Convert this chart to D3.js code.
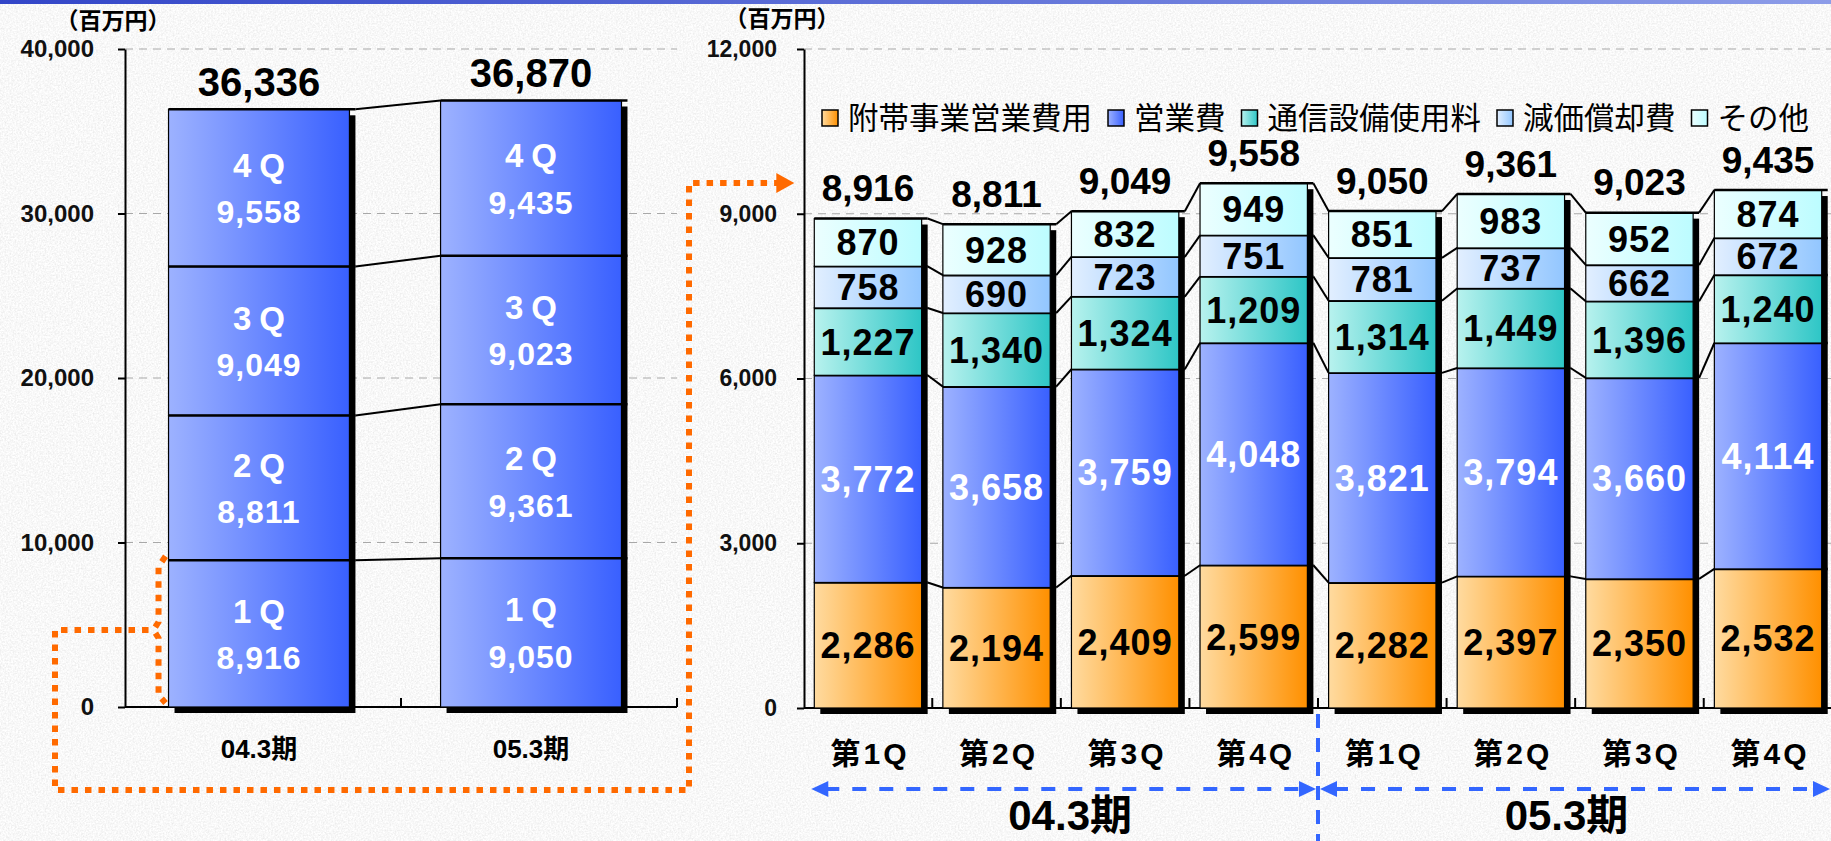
<!DOCTYPE html>
<html><head><meta charset="utf-8">
<script src="https://cdn.jsdelivr.net/npm/d3@7"></script>
<style>
html,body{margin:0;padding:0;background:#e6e6e6;overflow:hidden;}
svg{display:block;}
text{font-family:"Liberation Sans","Noto Sans CJK JP",sans-serif;}
</style></head><body>
<svg id="chart" width="1831" height="841"></svg>
<script>
// ---------- data ----------
const periods = ["04.3期", "05.3期"];
const periodTotals = [36336, 36870];
const quarterNames = ["1Q", "2Q", "3Q", "4Q"];
const fy04Quarters = [8916, 8811, 9049, 9558];
const fy05Quarters = [9050, 9361, 9023, 9435];

const qLabels = ["第1Q", "第2Q", "第3Q", "第4Q", "第1Q", "第2Q", "第3Q", "第4Q"];
const seriesNames = ["附帯事業営業費用", "営業費", "通信設備使用料", "減価償却費", "その他"];
const futaiCost   = [2286, 2194, 2409, 2599, 2282, 2397, 2350, 2532];
const eigyoCost   = [3772, 3658, 3759, 4048, 3821, 3794, 3660, 4114];
const tsushinFee  = [1227, 1340, 1324, 1209, 1314, 1449, 1396, 1240];
const genkaCost   = [758, 690, 723, 751, 781, 737, 662, 672];
const otherCost   = [870, 928, 832, 949, 851, 983, 952, 874];
const quarterTotals = [8916, 8811, 9049, 9558, 9050, 9361, 9023, 9435];

const leftTicks = [0, 10000, 20000, 30000, 40000];
const rightTicks = [0, 3000, 6000, 9000, 12000];
const unitLabel = "（百万円）";

const seriesValues = [futaiCost, eigyoCost, tsushinFee, genkaCost, otherCost];
const seriesColors = [
  ["#ffdba0", "#ff9000"],
  ["#9db2ff", "#3960ff"],
  ["#b8f2ee", "#2ec6c6"],
  ["#e2efff", "#92c6ff"],
  ["#ecffff", "#bcfcff"]
];
const fmt = d3.format(",");

// ---------- svg ----------
const svg = d3.select("#chart");
const defs = svg.append("defs");

// background texture
const f = defs.append("filter").attr("id", "noise").attr("x", 0).attr("y", 0).attr("width", 1).attr("height", 1);
f.append("feTurbulence").attr("type", "fractalNoise").attr("baseFrequency", "0.6").attr("numOctaves", 3).attr("seed", 4);
f.append("feColorMatrix").attr("type", "matrix")
  .attr("values", "0.3 0 0 0 0.79  0.3 0 0 0 0.79  0.3 0 0 0 0.79  0 0 0 0 1");
svg.append("rect").attr("width", 1831).attr("height", 841).attr("filter", "url(#noise)");

// top blue rule
const tg = defs.append("linearGradient").attr("id", "topRule");
tg.append("stop").attr("offset", "0%").attr("stop-color", "#3346c8");
tg.append("stop").attr("offset", "100%").attr("stop-color", "#8c9ce8");
svg.append("rect").attr("width", 1831).attr("height", 4).attr("fill", "url(#topRule)");

seriesColors.forEach((c, i) => {
  const g = defs.append("linearGradient").attr("id", "grad" + i).attr("x1", 0).attr("x2", 1).attr("y1", 0).attr("y2", 0);
  g.append("stop").attr("offset", "0%").attr("stop-color", c[0]);
  g.append("stop").attr("offset", "100%").attr("stop-color", c[1]);
});

const SH = 6; // shadow offset

// ================= LEFT CHART =================
const xL = d3.scaleBand().domain(periods).range([125, 665]).paddingInner(0.335).paddingOuter(0.16);
const yL = d3.scaleLinear().domain([0, 40000]).range([707, 49]);
const leftAxisEnd = 677;
const L = svg.append("g");

// gridlines
L.append("g").selectAll("line").data(leftTicks.filter(d => d > 0)).join("line")
  .attr("x1", 125).attr("x2", leftAxisEnd).attr("y1", d => yL(d)).attr("y2", d => yL(d))
  .attr("stroke", "#a8a8a8").attr("stroke-width", 1.2).attr("stroke-dasharray", "8 6");

// y axis
const yAxisL = L.append("g").attr("transform", "translate(125,0)")
  .call(d3.axisLeft(yL).tickValues(leftTicks).tickFormat(fmt).tickSize(7).tickSizeOuter(0).tickPadding(24));
yAxisL.selectAll("path,line").attr("stroke", "#000").attr("stroke-width", 2);
yAxisL.selectAll("text").attr("font-size", 24).attr("font-weight", "bold").attr("fill", "#111");
L.append("text").attr("x", 113).attr("y", 29).attr("text-anchor", "middle")
  .attr("font-size", 23).attr("font-weight", "bold").attr("font-family", "Noto Sans CJK JP").text(unitLabel);

// x axis
L.append("line").attr("x1", 125).attr("x2", leftAxisEnd).attr("y1", yL(0)).attr("y2", yL(0))
  .attr("stroke", "#000").attr("stroke-width", 2);
[125 + (leftAxisEnd - 125) / 2, leftAxisEnd].forEach(x => {
  L.append("line").attr("x1", x).attr("x2", x).attr("y1", yL(0)).attr("y2", yL(0) - 9)
    .attr("stroke", "#000").attr("stroke-width", 2);
});

const leftData = [fy04Quarters, fy05Quarters].map((arr, pi) => {
  let acc = 0;
  return arr.map((v, qi) => { const s = { p: periods[pi], q: quarterNames[qi], v, y0: acc, y1: acc + v }; acc += v; return s; });
});
const bwL = xL.bandwidth();

// shadows
L.append("g").selectAll("rect").data(periods).join("rect")
  .attr("x", d => xL(d) + SH).attr("y", (d, i) => yL(d3.sum(leftData[i], s => s.v)) + SH)
  .attr("width", bwL).attr("height", (d, i) => yL(0) - yL(d3.sum(leftData[i], s => s.v)))
  .attr("fill", "#000");

// bars
leftData.forEach((segs, pi) => {
  L.append("g").selectAll("rect").data(segs).join("rect")
    .attr("x", d => xL(d.p)).attr("y", d => yL(d.y1)).attr("width", bwL)
    .attr("height", d => yL(d.y0) - yL(d.y1))
    .attr("fill", "url(#grad1)").attr("stroke", "#000").attr("stroke-width", 1.2);
  L.append("g").selectAll("line").data(segs).join("line")
    .attr("x1", d => xL(d.p)).attr("x2", d => xL(d.p) + bwL + SH)
    .attr("y1", d => yL(d.y1)).attr("y2", d => yL(d.y1))
    .attr("stroke", "#000").attr("stroke-width", 2.5);
  const lbl = L.append("g").selectAll("g").data(segs).join("g");
  lbl.append("text").attr("x", d => xL(d.p) + bwL / 2 + 4).attr("y", d => (yL(d.y0) + yL(d.y1)) / 2 - 23)
    .attr("dy", "0.36em").attr("text-anchor", "middle").attr("fill", "#fff")
    .attr("font-size", 33).attr("font-weight", "bold").attr("letter-spacing", 8).text(d => d.q);
  lbl.append("text").attr("x", d => xL(d.p) + bwL / 2).attr("y", d => (yL(d.y0) + yL(d.y1)) / 2 + 24)
    .attr("dy", "0.36em").attr("text-anchor", "middle").attr("fill", "#fff")
    .attr("font-size", 32).attr("font-weight", "bold").attr("letter-spacing", 1).text(d => fmt(d.v));
});

// connectors between the two period bars
d3.range(4).forEach(k => {
  const a = leftData[0][k].y1, b = leftData[1][k].y1;
  L.append("line").attr("x1", xL(periods[0]) + bwL + SH).attr("y1", yL(a))
    .attr("x2", xL(periods[1])).attr("y2", yL(b)).attr("stroke", "#000").attr("stroke-width", 2);
});

// totals
L.append("g").selectAll("text").data(periods).join("text")
  .attr("x", d => xL(d) + bwL / 2).attr("y", (d, i) => yL(periodTotals[i]) - 13)
  .attr("text-anchor", "middle").attr("font-size", 40).attr("font-weight", "bold").attr("fill", "#000")
  .text((d, i) => fmt(periodTotals[i]));

// category labels
L.append("g").selectAll("text").data(periods).join("text")
  .attr("x", d => xL(d) + bwL / 2).attr("y", 758)
  .attr("text-anchor", "middle").attr("font-size", 26).attr("font-weight", "bold").attr("fill", "#000")
  .text(d => d);

// ================= RIGHT CHART =================
const idx = d3.range(qLabels.length);
const xR = d3.scaleBand().domain(idx).range([804, 1832]).paddingInner(0.165).paddingOuter(0.08);
const yR = d3.scaleLinear().domain([0, 12000]).range([708, 49]);
const bwR = xR.bandwidth();
const R = svg.append("g");

R.append("g").selectAll("line").data(rightTicks.filter(d => d > 0)).join("line")
  .attr("x1", 804).attr("x2", 1831).attr("y1", d => yR(d)).attr("y2", d => yR(d))
  .attr("stroke", "#a8a8a8").attr("stroke-width", 1.2).attr("stroke-dasharray", "8 6");

const yAxisR = R.append("g").attr("transform", "translate(804,0)")
  .call(d3.axisLeft(yR).tickValues(rightTicks).tickFormat(fmt).tickSize(7).tickSizeOuter(0).tickPadding(20));
yAxisR.selectAll("path,line").attr("stroke", "#000").attr("stroke-width", 2);
yAxisR.selectAll("text").attr("font-size", 23).attr("font-weight", "bold").attr("fill", "#111");
R.append("text").attr("x", 782).attr("y", 27).attr("text-anchor", "middle")
  .attr("font-size", 23).attr("font-weight", "bold").attr("font-family", "Noto Sans CJK JP").text(unitLabel);

// x axis
R.append("line").attr("x1", 804).attr("x2", 1831).attr("y1", yR(0)).attr("y2", yR(0))
  .attr("stroke", "#000").attr("stroke-width", 2);
idx.slice(1).forEach(i => {
  const x = xR(i) - xR.step() * xR.paddingInner() / 2;
  R.append("line").attr("x1", x).attr("x2", x).attr("y1", yR(0)).attr("y2", yR(0) - 10)
    .attr("stroke", "#000").attr("stroke-width", 2);
});

const stacked = d3.stack().keys(d3.range(5))(idx.map(i => seriesValues.map(s => s[i])));
const topOf = i => stacked[4][i][1];

// shadows
R.append("g").selectAll("rect").data(idx).join("rect")
  .attr("x", i => xR(i) + SH).attr("y", i => yR(topOf(i)) + SH)
  .attr("width", bwR).attr("height", i => yR(0) - yR(topOf(i)))
  .attr("fill", "#000");

stacked.forEach((layer, si) => {
  R.append("g").selectAll("rect").data(layer.map((d, i) => ({ i, y0: d[0], y1: d[1] }))).join("rect")
    .attr("x", d => xR(d.i)).attr("y", d => yR(d.y1)).attr("width", bwR)
    .attr("height", d => yR(d.y0) - yR(d.y1))
    .attr("fill", "url(#grad" + si + ")").attr("stroke", "#000").attr("stroke-width", 1.2);
  R.append("g").selectAll("line").data(layer.map((d, i) => ({ i, y1: d[1] }))).join("line")
    .attr("x1", d => xR(d.i)).attr("x2", d => xR(d.i) + bwR + SH)
    .attr("y1", d => yR(d.y1)).attr("y2", d => yR(d.y1))
    .attr("stroke", "#000").attr("stroke-width", 2.5);
});

// connectors
stacked.forEach(layer => {
  idx.slice(0, -1).forEach(i => {
    R.append("line").attr("x1", xR(i) + bwR + SH).attr("y1", yR(layer[i][1]))
      .attr("x2", xR(i + 1)).attr("y2", yR(layer[i + 1][1]))
      .attr("stroke", "#000").attr("stroke-width", 2);
  });
});

// segment labels
stacked.forEach((layer, si) => {
  R.append("g").selectAll("text").data(layer.map((d, i) => ({ i, y0: d[0], y1: d[1], v: seriesValues[si][i] }))).join("text")
    .attr("x", d => xR(d.i) + bwR / 2).attr("y", d => (yR(d.y0) + yR(d.y1)) / 2)
    .attr("dy", "0.36em").attr("text-anchor", "middle")
    .attr("font-size", 36).attr("font-weight", "bold").attr("letter-spacing", 1)
    .attr("fill", si === 1 ? "#fff" : "#000").text(d => fmt(d.v));
});

// totals
R.append("g").selectAll("text").data(idx).join("text")
  .attr("x", i => xR(i) + bwR / 2).attr("y", i => yR(quarterTotals[i]) - 17)
  .attr("text-anchor", "middle").attr("font-size", 37).attr("font-weight", "bold").attr("fill", "#000")
  .text(i => fmt(quarterTotals[i]));

// quarter labels
R.append("g").selectAll("text").data(idx).join("text")
  .attr("x", i => xR(i) + bwR / 2 + 2).attr("y", 764)
  .attr("text-anchor", "middle").attr("font-size", 30).attr("font-weight", "bold").attr("letter-spacing", 3)
  .attr("fill", "#000").text(i => qLabels[i]);

// legend
const lg = R.append("g").attr("transform", "translate(822,118)");
let lx = 0;
seriesNames.forEach((name, i) => {
  lg.append("rect").attr("x", lx).attr("y", -8).attr("width", 16).attr("height", 16)
    .attr("fill", "url(#grad" + i + ")").attr("stroke", "#000").attr("stroke-width", 1.5);
  const t = lg.append("text").attr("x", lx + 26).attr("y", 0).attr("dy", "0.36em")
    .attr("font-size", 30.5).attr("font-family", "Noto Sans CJK JP").attr("fill", "#000").text(name);
  lx += 26 + t.node().getComputedTextLength() + 16;
});

// period brackets (blue dashed arrows)
const blue = "#3366ff";
const divX = xR(4) - xR.step() * xR.paddingInner() / 2;
const arrowY = 789;
function hArrow(x1, x2) {
  R.append("line").attr("x1", x1 + 14).attr("x2", x2 - 14).attr("y1", arrowY).attr("y2", arrowY)
    .attr("stroke", blue).attr("stroke-width", 4).attr("stroke-dasharray", "14 13");
  R.append("path").attr("d", `M${x1},${arrowY} L${x1 + 17},${arrowY - 8} L${x1 + 17},${arrowY + 8} Z`).attr("fill", blue);
  R.append("path").attr("d", `M${x2},${arrowY} L${x2 - 17},${arrowY - 8} L${x2 - 17},${arrowY + 8} Z`).attr("fill", blue);
}
hArrow(xR(0) - 3, divX - 2);
hArrow(divX + 2, 1830);
R.append("line").attr("x1", divX).attr("x2", divX).attr("y1", 714).attr("y2", 841)
  .attr("stroke", blue).attr("stroke-width", 4).attr("stroke-dasharray", "14 10");
R.append("text").attr("x", (xR(0) + divX) / 2 + 4).attr("y", 830).attr("text-anchor", "middle")
  .attr("font-size", 42).attr("font-weight", "bold").attr("fill", "#000").text(periods[0]);
R.append("text").attr("x", (divX + 1831) / 2 - 8).attr("y", 830).attr("text-anchor", "middle")
  .attr("font-size", 42).attr("font-weight", "bold").attr("fill", "#000").text(periods[1]);

// ================= orange dotted link =================
const orange = "#ff6a00";
const bx = xL(periods[0]) - 10;
const yTop = yL(fy04Quarters[0]), yBot = yL(0), yMid = 630;
const O = svg.append("g").attr("fill", "none").attr("stroke", orange).attr("stroke-width", 6).attr("stroke-dasharray", "6.5 7");
O.append("path").attr("d", `M${bx + 7},${yTop - 4} L${bx},${yTop + 6} L${bx},${yMid - 8} L${bx - 5},${yMid} L${bx},${yMid + 8} L${bx},${yBot - 12} L${bx + 7},${yBot - 4}`);
const ax = 689, aBottom = 790, aTop = yR(fy04Quarters[3]);
O.append("path").attr("d", `M${bx - 10},${yMid} L55,${yMid} L55,${aBottom} L${ax},${aBottom} L${ax},${aTop} L${xR(0) - 36},${aTop}`);
svg.append("path").attr("d", `M${xR(0) - 20},${aTop} L${xR(0) - 38},${aTop - 10} L${xR(0) - 38},${aTop + 10} Z`).attr("fill", orange);
</script>
</body></html>
